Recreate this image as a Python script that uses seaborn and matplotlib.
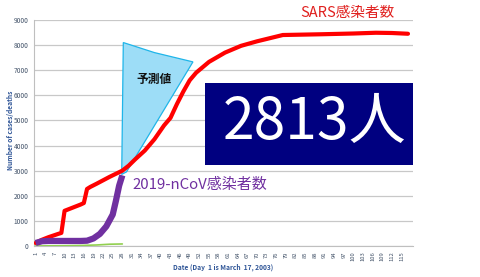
import matplotlib
matplotlib.use("Agg")
import matplotlib.pyplot as plt
import seaborn as sns
import pandas as pd
import numpy as np

# ---- data ----
sars_days = [1, 3, 5, 8, 9, 10, 12, 15, 16, 17, 18, 20, 24, 28, 30, 32, 35, 38, 41, 43,
             45, 47, 49, 51, 55, 60, 65, 70, 78, 90, 100, 107, 112, 117]
sars_cases = [120, 250, 350, 480, 520, 1400, 1500, 1650, 1710, 2270, 2350, 2480, 2750, 3000,
              3200, 3450, 3800, 4250, 4800, 5100, 5650, 6150, 6600, 6900, 7330, 7700, 7970,
              8150, 8400, 8430, 8460, 8490, 8480, 8450]

ncov_days = [1, 3, 5, 10, 15, 17, 19, 21, 23, 25, 26, 27, 28]
ncov_cases = [120, 190, 200, 200, 200, 210, 300, 480, 780, 1250, 1800, 2400, 2813]

death_days = [1, 5, 10, 15, 20, 24, 28]
death_vals = [0, 5, 10, 20, 40, 70, 80]

pred_days = [27.8, 28.3, 38, 50, 29.3]
pred_values = [2850, 8100, 7700, 7330, 2950]

x_ticks = list(range(1, 116, 3))
y_ticks = list(range(0, 9001, 1000))

sns.set_theme(style="white")
plt.rcParams['font.family'] = ['Noto Sans CJK JP', 'DejaVu Sans']

fig = plt.figure(figsize=(4.8, 2.77), dpi=100)
ax = fig.add_axes([0.071, 0.112, 0.789, 0.816])

tick_col = '#44546A'

# prediction polygon
ax.fill(pred_days, pred_values, facecolor='#9DDDF7', edgecolor='#1FB5E9', linewidth=0.9, zorder=2)

df_d = pd.DataFrame({'day': death_days, 'v': death_vals})
sns.lineplot(data=df_d, x='day', y='v', ax=ax, color='#92D050', linewidth=1.2, zorder=3)

df_s = pd.DataFrame({'day': sars_days, 'v': sars_cases})
sns.lineplot(data=df_s, x='day', y='v', ax=ax, color='#FF0000', linewidth=3.0, zorder=4)

df_n = pd.DataFrame({'day': ncov_days, 'v': ncov_cases})
sns.lineplot(data=df_n, x='day', y='v', ax=ax, color='#7030A0', linewidth=4.5, zorder=5,
             solid_capstyle='butt')

ax.set_xlim(0.5, 118.5)
ax.set_ylim(0, 9000)
ax.set_xticks(x_ticks)
ax.set_xticklabels([str(t) for t in x_ticks], rotation=90, fontsize=4.2, color=tick_col)
ax.set_yticks(y_ticks)
ax.set_yticklabels([str(t) for t in y_ticks], fontsize=4.8, color=tick_col)
ax.tick_params(axis='both', length=2, width=0.5, color='#BFBFBF', pad=2)
ax.grid(axis='y', color='#C8C8C8', linewidth=0.9)
ax.grid(axis='x', visible=False)
for s in ['top', 'right']:
    ax.spines[s].set_visible(False)
for s in ['left', 'bottom']:
    ax.spines[s].set_color('#BFBFBF')
    ax.spines[s].set_linewidth(0.8)

ax.set_xlabel('Date (Day  1 is March  17, 2003)', fontsize=4.8, color='#2F5597',
              fontweight='bold')
ax.xaxis.set_label_coords(0.499, -0.093)
ax.xaxis.label.set_va('center')
ax.set_ylabel('Number of cases/deaths', fontsize=4.8, color='#2F5597', fontweight='bold')
ax.yaxis.set_label_coords(-0.063, 0.51)
ax.yaxis.label.set_va('center')

# annotations
fig.text(300/480, 1 - 13/277, 'SARS感染者数', color='#E0201E', fontsize=10.5,
         ha='left', va='center')
fig.text(154/480, 1 - 79/277, '予測値', color='#111111', fontsize=8.5,
         fontweight='bold', ha='center', va='center')
fig.text(132/480, 1 - 185/277, '2019-nCoV感染者数', color='#7030A0', fontsize=10.8,
         ha='left', va='center')

box = plt.Rectangle((205/480, 1 - 165/277), (413 - 205)/480, (165 - 83)/277,
                    transform=fig.transFigure, facecolor='#000080', edgecolor='none',
                    zorder=10)
fig.patches.append(box)
fig.text(315/480, 1 - 123/277, '2813人', color='white', fontsize=41,
         ha='center', va='center', zorder=11)

fig.savefig('out.png', dpi=100)
